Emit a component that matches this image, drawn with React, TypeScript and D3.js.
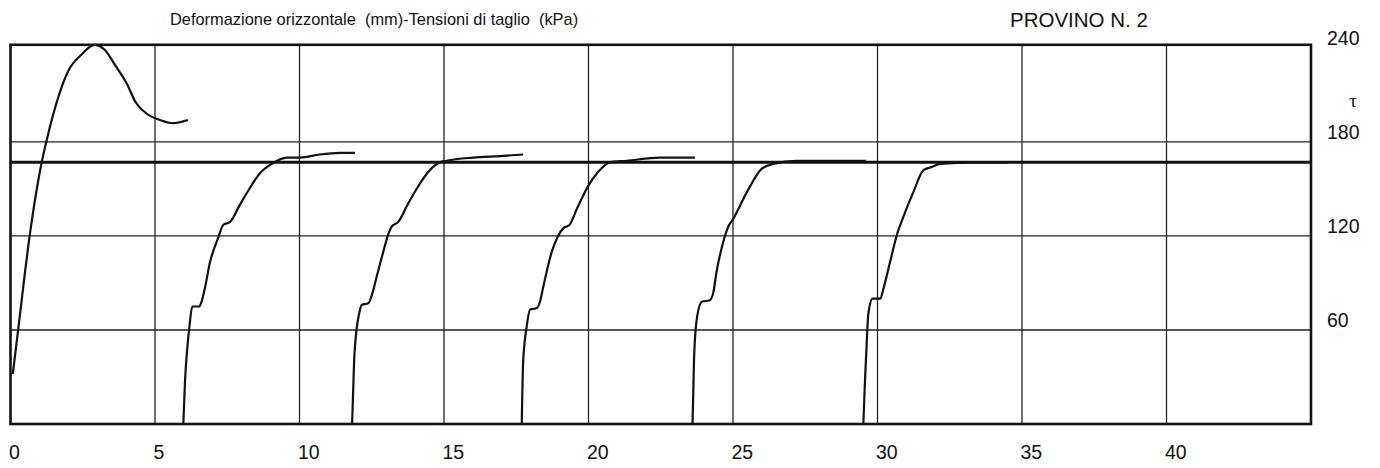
import React from "react";
import * as d3 from "d3";

// ---- data ----
const xTicks = [0, 5, 10, 15, 20, 25, 30, 35, 40];
const yTicks = [60, 120, 180, 240];
const gridX = [5, 10, 15, 20, 25, 30, 35, 40];
const gridY = [60, 120, 180];
const refLine = 167;

const c1X = [0.08, 0.27, 0.67, 1.08, 1.25, 1.47, 1.99, 2.47, 2.9, 3.25, 3.62, 4.03, 4.31, 4.72, 5.17, 5.62, 6.14];
const c1Y = [32, 61, 121, 167, 181, 197, 225, 236, 242, 239, 229, 217, 206, 198, 194, 192, 194];

const c2X = [5.98, 6.04, 6.12, 6.19, 6.29, 6.53, 6.61, 6.73, 6.9, 7.19, 7.36, 7.6, 7.94, 8.23, 8.63, 9.04, 9.56, 10.02, 10.7, 11.4, 11.92];
const c2Y = [0, 28, 49, 62, 75, 75, 78, 87, 103, 119, 127, 129, 140, 149, 160, 166, 170, 170, 172, 173, 173];

const c3X = [11.82, 11.89, 11.98, 12.07, 12.15, 12.38, 12.5, 12.67, 12.9, 13.07, 13.19, 13.42, 13.71, 14.05, 14.46, 14.86, 15.09, 16.01, 16.94, 17.74];
const c3Y = [0, 40, 61, 71, 76, 77, 82, 94, 110, 121, 126, 129, 139, 150, 161, 167, 168, 170, 171, 172];

const c4X = [17.69, 17.74, 17.86, 17.98, 18.21, 18.32, 18.44, 18.73, 18.95, 19.13, 19.34, 19.59, 19.99, 20.34, 20.74, 21.32, 22.47, 23.68];
const c4Y = [0, 40, 62, 73, 74, 78, 88, 110, 120, 125, 127, 137, 152, 161, 167, 168, 170, 170];

const c5X = [23.6, 23.65, 23.74, 23.92, 24.2, 24.32, 24.43, 24.66, 24.84, 25.01, 25.48, 26.0, 26.4, 27.2, 28.4, 29.6];
const c5Y = [0, 40, 66, 78, 79, 84, 97, 116, 126, 131, 148, 163, 166, 168, 168, 168];

const c6X = [29.51, 29.57, 29.65, 29.68, 29.83, 30.1, 30.2, 30.43, 30.66, 30.89, 31.24, 31.59, 31.88, 32.17, 33.3, 34.5];
const c6Y = [0, 29, 61, 70, 80, 80, 86, 103, 120, 132, 148, 162, 164, 166, 167, 167];

const curves = [
  [c1X, c1Y],
  [c2X, c2Y],
  [c3X, c3Y],
  [c4X, c4Y],
  [c5X, c5Y],
  [c6X, c6Y],
];

const titleText = "Deformazione orizzontale\u00a0\u00a0(mm)-Tensioni di taglio\u00a0\u00a0(kPa)";
const provinoText = "PROVINO N. 2";
const tauText = "τ";

export default function App() {
  const W = 1380;
  const H = 468;
  const x = d3.scaleLinear().domain([0, 45]).range([10.5, 1311]);
  const y = d3.scaleLinear().domain([0, 242]).range([424, 44.8]);
  const line = d3
    .line<[number, number]>()
    .x((d) => x(d[0]))
    .y((d) => y(d[1]))
    .curve(d3.curveMonotoneX);

  const sans = "'Liberation Sans', Arial, sans-serif";

  return (
    <div style={{ position: "absolute", left: 0, top: 0 }}>
      <svg width={W} height={H} style={{ display: "block", background: "#fff" }}>
        <rect x={0} y={0} width={W} height={H} fill="#fff" />
        {/* grid */}
        {gridX.map((v) => (
          <line key={"gx" + v} x1={x(v)} x2={x(v)} y1={y(242)} y2={y(0)} stroke="#222" strokeWidth={1.3} />
        ))}
        {gridY.map((v) => (
          <line key={"gy" + v} x1={x(0)} x2={x(45)} y1={y(v)} y2={y(v)} stroke="#222" strokeWidth={1.3} />
        ))}
        {/* reference thick line */}
        <line x1={x(0)} x2={x(45)} y1={y(refLine)} y2={y(refLine)} stroke="#111" strokeWidth={3} />
        {/* curves */}
        {curves.map(([cx, cy], i) => (
          <path
            key={"c" + i}
            d={line(cx.map((v, j) => [v, cy[j]] as [number, number])) || ""}
            fill="none"
            stroke="#111"
            strokeWidth={2.2}
            strokeLinejoin="round"
          />
        ))}
        {/* frame */}
        <rect
          x={x(0)}
          y={y(242)}
          width={x(45) - x(0)}
          height={y(0) - y(242)}
          fill="none"
          stroke="#111"
          strokeWidth={2.6}
        />
        {/* x tick labels */}
        {xTicks.map((v) => (
          <text key={"xt" + v} x={x(v) - 1.5} y={459} fontFamily={sans} fontSize={19.5} fill="#111">
            {v}
          </text>
        ))}
        {/* y tick labels */}
        {yTicks.map((v) => (
          <text key={"yt" + v} x={1327} y={y(v) - 3} fontFamily={sans} fontSize={19.5} fill="#111">
            {v}
          </text>
        ))}
        <text x={1353} y={107} textAnchor="middle" fontFamily="'Liberation Serif', 'DejaVu Serif', serif" fontSize={19} fill="#111">
          {tauText}
        </text>
        {/* titles */}
        <text x={170} y={25} fontFamily={sans} fontSize={16.4} fill="#111">
          {titleText}
        </text>
        <text x={1010} y={27} fontFamily={sans} fontSize={20.5} fill="#111">
          {provinoText}
        </text>
      </svg>
    </div>
  );
}
